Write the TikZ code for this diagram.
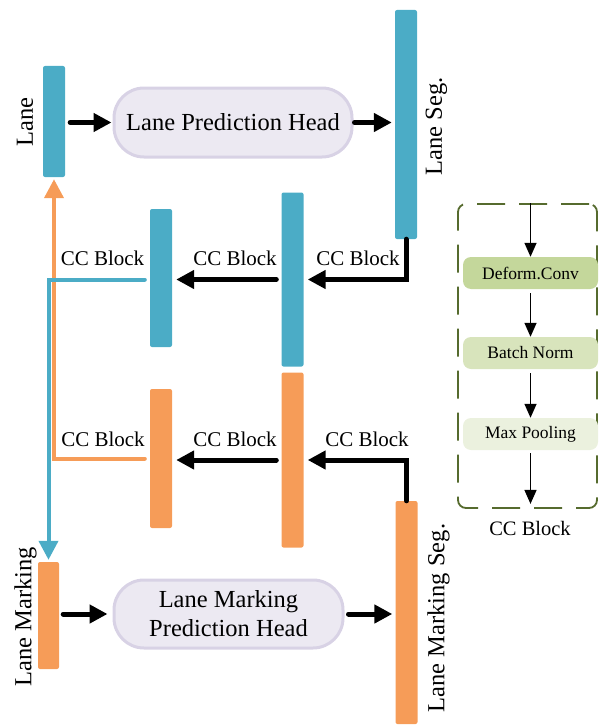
\documentclass[tikz,border=0pt]{standalone}
\usepackage{fontspec}
\setmainfont{Liberation Serif}
\usetikzlibrary{arrows.meta}
\definecolor{laneblue}{HTML}{4BACC6}
\definecolor{markorange}{HTML}{F69C58}
\definecolor{pillfill}{HTML}{ECE9F2}
\definecolor{pilldraw}{HTML}{D8D2E5}
\definecolor{dcgreen}{HTML}{C4D79B}
\definecolor{bngreen}{HTML}{D8E4BC}
\definecolor{mpgreen}{HTML}{EBF1DE}
\definecolor{dashgreen}{HTML}{566B2E}
\begin{document}
\begin{tikzpicture}[x=1pt,y=-1pt,
  bar/.style={rectangle, rounded corners=2pt, minimum width=22pt, inner sep=0pt},
  pill/.style={rectangle, rounded corners=30pt, fill=pillfill, draw=pilldraw, line width=3pt,
    align=center, inner sep=0pt, font=\fontsize{24.5}{29}\selectfont},
  mainlbl/.style={rotate=90, inner sep=0pt, font=\fontsize{24.5}{29}\selectfont},
  cclbl/.style={anchor=base, inner sep=0pt, font=\fontsize{21}{25}\selectfont},
  stagebox/.style={rectangle, rounded corners=8pt, minimum width=135pt, minimum height=32pt,
    inner sep=0pt, font=\fontsize{17.5}{21}\selectfont},
  bigarrow/.style={line width=5pt, line cap=round, -{Triangle[length=18pt,width=18pt]}},
  blueline/.style={draw=laneblue, line width=4pt, line cap=round, -{Triangle[length=19pt,width=19pt]}, laneblue},
  orangeline/.style={draw=markorange, line width=4pt, line cap=round, -{Triangle[length=19pt,width=19pt]}, markorange},
  thinarrow/.style={line width=1.5pt, -{Triangle[length=14pt,width=12pt]}}
]
\useasboundingbox (0,0) rectangle (599,725);

% bars
\node[bar, fill=laneblue, minimum height=111pt] (lane) at (54,121.5) {};
\node[bar, fill=laneblue, minimum height=229pt] (laneseg) at (406,124.5) {};
\node[bar, fill=laneblue, minimum height=174pt] (b2) at (292.5,279.5) {};
\node[bar, fill=laneblue, minimum height=138pt] (b1) at (161,278) {};
\node[bar, fill=markorange, minimum height=175pt] (o2) at (292.5,460) {};
\node[bar, fill=markorange, minimum height=139pt] (o1) at (161,458.5) {};
\node[bar, fill=markorange, minimum height=223pt] (lms) at (406.5,612.5) {};
\node[bar, fill=markorange, minimum height=107pt, minimum width=21pt] (lm) at (48.5,615.5) {};

% heads
\node[pill, minimum width=238pt, minimum height=69pt] (lph) at (233,122.5) {Lane Prediction Head};
\node[pill, minimum width=229pt, minimum height=68pt] (lmph) at (228.5,614) {Lane Marking\\Prediction Head};

% main labels
\node[mainlbl] (lanelbl) at (25,122) {Lane};
\node[mainlbl] (lanesegl) at (436.5,126.5) {Lane Seg.};
\node[mainlbl] (lmlbl) at (25.5,617) {Lane Marking};
\node[mainlbl] (lmslbl) at (438.5,618) {Lane Marking Seg.};

% CC block labels
\node[cclbl] (cc1) at (358,265) {CC Block};
\node[cclbl] (cc2) at (235,265) {CC Block};
\node[cclbl] (cc3) at (102.5,265) {CC Block};
\node[cclbl] (cc4) at (367,446) {CC Block};
\node[cclbl] (cc5) at (235,446) {CC Block};
\node[cclbl] (cc6) at (103,446) {CC Block};

% cross connections
\draw[orangeline, shorten <=5pt, shorten >=2pt] (o1.west) -| (lane.south);
\draw[blueline, shorten <=5pt, shorten >=2pt] (b1.west |- b2.west) -| (lm.north);

% black arrows
\draw[bigarrow, shorten <=5pt, shorten >=1pt] (lane.east |- lph.west) -- (lph.west);
\draw[bigarrow, shorten <=1pt, shorten >=3pt] (lph.east) -- (lph.east -| laneseg.west);
\draw[bigarrow, shorten >=4pt] (laneseg.south) |- (b2.east);
\draw[bigarrow, shorten <=5pt, shorten >=4pt] (b2.west) -- (b2.west -| b1.east);
\draw[bigarrow, shorten >=4pt] (lms.north) |- (o2.east);
\draw[bigarrow, shorten <=5pt, shorten >=4pt] (o2.west) -- (o2.west -| o1.east);
\draw[bigarrow, shorten <=4pt, shorten >=5pt] (lm.east |- lmph.west) -- (lmph.west);
\draw[bigarrow, shorten <=4pt, shorten >=3pt] (lmph.east) -- (lmph.east -| lms.west);

% CC block detail
\node[draw=dashgreen, line width=1.8pt, dash pattern=on 28pt off 14pt, rounded corners=8pt,
  minimum width=139pt, minimum height=304pt, inner sep=0pt] (ccbox) at (527.5,356) {};
\node[stagebox, fill=dcgreen] (dc) at (530.5,273) {Deform.Conv};
\node[stagebox, fill=bngreen] (bn) at (530.5,353) {Batch Norm};
\node[stagebox, fill=mpgreen] (mp) at (530.5,434) {Max Pooling};
\node[anchor=base, inner sep=0pt, font=\fontsize{20.5}{24}\selectfont] (cclabel) at (530,535) {CC Block};
\draw[thinarrow] (dc.north |- ccbox.north) -- (dc.north);
\draw[thinarrow, shorten <=4pt] (dc.south) -- (bn.north);
\draw[thinarrow, shorten <=4pt] (bn.south) -- (mp.north);
\draw[thinarrow, shorten <=3pt, shorten >=5pt] (mp.south) -- (mp.south |- ccbox.south);
\end{tikzpicture}
\end{document}
